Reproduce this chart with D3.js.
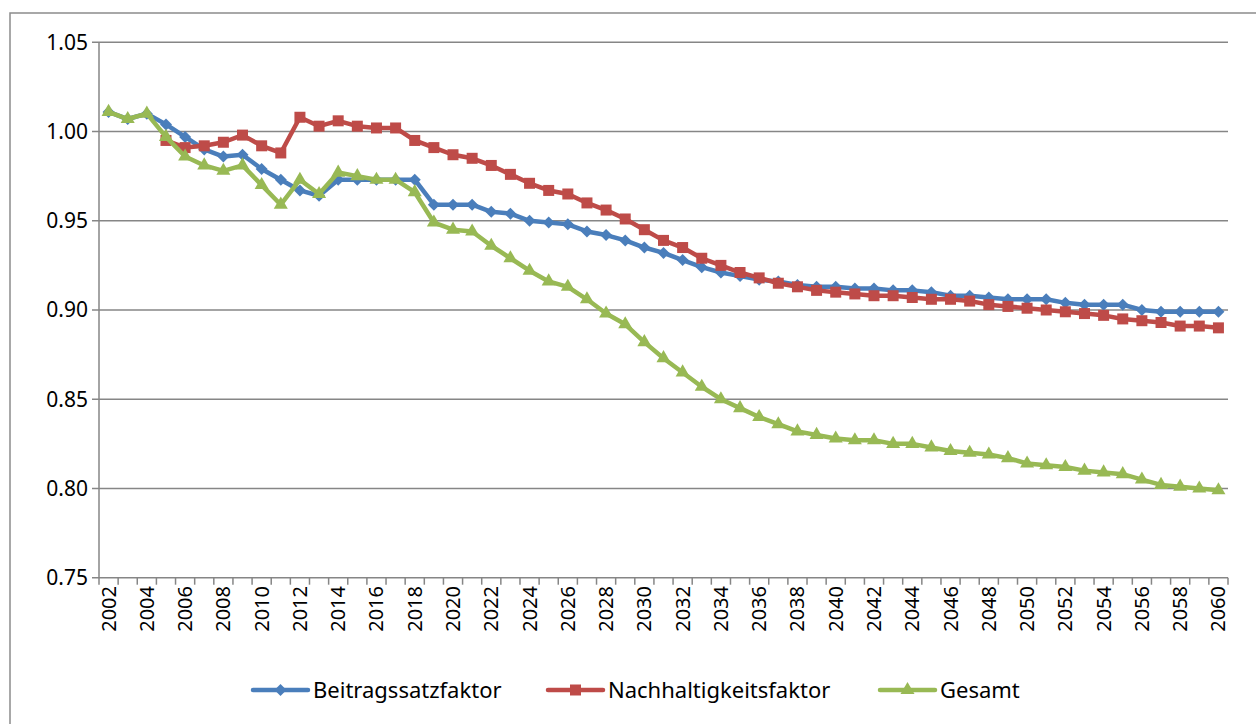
<!DOCTYPE html>
<html lang="de">
<head>
    <meta charset="UTF-8">
    <title>Faktoren</title>
    <script src="https://d3js.org/d3.v7.min.js"></script>
    <style>
        body { margin: 0; background: #fff; }
        svg text { font-family: "Noto Sans", sans-serif; fill: #000; }
        .grid line { stroke: #868686; stroke-width: 1.5px; }
    </style>
</head>
<body>
<svg id="chart" width="1256" height="724"></svg>
<script>
    // categories
    var years = d3.range(2002, 2061);
    var yTicks = [0.75, 0.80, 0.85, 0.90, 0.95, 1.00, 1.05];

    // series values
    var beitrag = [1.011, 1.007, 1.010, 1.004, 0.997, 0.990, 0.986, 0.987, 0.979, 0.973,
        0.967, 0.964, 0.973, 0.973, 0.973, 0.973, 0.973, 0.959, 0.959, 0.959,
        0.955, 0.954, 0.950, 0.949, 0.948, 0.944, 0.942, 0.939, 0.935, 0.932,
        0.928, 0.924, 0.921, 0.919, 0.917, 0.916, 0.914, 0.913, 0.913, 0.912,
        0.912, 0.911, 0.911, 0.910, 0.908, 0.908, 0.907, 0.906, 0.906, 0.906,
        0.904, 0.903, 0.903, 0.903, 0.900, 0.899, 0.899, 0.899, 0.899];
    var nachhalt = [null, null, null, 0.995, 0.991, 0.992, 0.994, 0.998, 0.992, 0.988,
        1.008, 1.003, 1.006, 1.003, 1.002, 1.002, 0.995, 0.991, 0.987, 0.985,
        0.981, 0.976, 0.971, 0.967, 0.965, 0.960, 0.956, 0.951, 0.945, 0.939,
        0.935, 0.929, 0.925, 0.921, 0.918, 0.915, 0.913, 0.911, 0.910, 0.909,
        0.908, 0.908, 0.907, 0.906, 0.906, 0.905, 0.903, 0.902, 0.901, 0.900,
        0.899, 0.898, 0.897, 0.895, 0.894, 0.893, 0.891, 0.891, 0.890];
    var gesamt = [1.011, 1.007, 1.010, 0.997, 0.986, 0.981, 0.978, 0.981, 0.970, 0.959,
        0.973, 0.965, 0.977, 0.975, 0.973, 0.973, 0.966, 0.949, 0.945, 0.944,
        0.936, 0.929, 0.922, 0.916, 0.913, 0.906, 0.898, 0.892, 0.882, 0.873,
        0.865, 0.857, 0.850, 0.845, 0.840, 0.836, 0.832, 0.830, 0.828, 0.827,
        0.827, 0.825, 0.825, 0.823, 0.821, 0.820, 0.819, 0.817, 0.814, 0.813,
        0.812, 0.810, 0.809, 0.808, 0.805, 0.802, 0.801, 0.800, 0.799];

    var seriesNames = ["Beitragssatzfaktor", "Nachhaltigkeitsfaktor", "Gesamt"];
    var seriesColors = ["#4A7EBB", "#BE4B48", "#98B954"];

    var series = [
        {name: seriesNames[0], values: beitrag, color: seriesColors[0], symbol: "diamond"},
        {name: seriesNames[1], values: nachhalt, color: seriesColors[1], symbol: "square"},
        {name: seriesNames[2], values: gesamt, color: seriesColors[2], symbol: "triangle"}
    ];

    var svg = d3.select("#chart");

    // outer frame of the chart area
    svg.append("rect")
        .attr("x", 10).attr("y", 13)
        .attr("width", 1400).attr("height", 900)
        .attr("fill", "none")
        .attr("stroke", "#8c8c8c")
        .attr("stroke-width", 1.5);

    var x = d3.scaleBand().domain(years).range([99, 1228]).padding(0);
    var y = d3.scaleLinear().domain([0.75, 1.05]).range([577.7, 42.3]);

    // horizontal gridlines
    svg.append("g").attr("class", "grid")
        .selectAll("line")
        .data(yTicks)
        .enter().append("line")
        .attr("x1", 92).attr("x2", 1228)
        .attr("y1", function (d) { return y(d); })
        .attr("y2", function (d) { return y(d); });

    // y axis line
    svg.append("line")
        .attr("x1", 99).attr("x2", 99)
        .attr("y1", y(1.05)).attr("y2", y(0.75))
        .attr("stroke", "#868686").attr("stroke-width", 1.5);

    // y labels
    svg.append("g").selectAll("text")
        .data(yTicks)
        .enter().append("text")
        .attr("x", 88)
        .attr("y", function (d) { return y(d); })
        .attr("dy", "0.35em")
        .attr("text-anchor", "end")
        .style("font-size", "21px")
        .text(function (d) { return d3.format(".2f")(d); });

    // x ticks at category boundaries
    var bounds = years.map(function (d) { return x(d); }).concat([x.range()[1]]);
    svg.append("g").selectAll("line")
        .data(bounds)
        .enter().append("line")
        .attr("x1", function (d) { return d; })
        .attr("x2", function (d) { return d; })
        .attr("y1", y(0.75)).attr("y2", y(0.75) + 7)
        .attr("stroke", "#868686").attr("stroke-width", 1.5);

    // x labels, every second year
    svg.append("g").selectAll("text")
        .data(years.filter(function (d, i) { return i % 2 === 0; }))
        .enter().append("text")
        .attr("transform", function (d) {
            return "translate(" + (x(d) + x.bandwidth() / 2) + "," + 586 + ") rotate(-90)";
        })
        .attr("dy", "0.35em")
        .attr("text-anchor", "end")
        .style("font-size", "20px")
        .text(function (d) { return d; });

    function symbolPath(kind) {
        if (kind === "diamond") {
            return "M0,-6L6,0L0,6L-6,0Z";
        } else if (kind === "square") {
            return d3.symbol().type(d3.symbolSquare).size(121)();
        }
        return d3.symbol().type(d3.symbolTriangle).size(85)();
    }

    var line = d3.line()
        .defined(function (d) { return d.v !== null; })
        .x(function (d) { return x(d.year) + x.bandwidth() / 2; })
        .y(function (d) { return y(d.v); });

    series.forEach(function (s) {
        var pts = years.map(function (yr, i) { return {year: yr, v: s.values[i]}; });
        var g = svg.append("g");
        g.append("path")
            .datum(pts)
            .attr("d", line)
            .attr("fill", "none")
            .attr("stroke", s.color)
            .attr("stroke-width", 4.5)
            .attr("stroke-linejoin", "round");
        g.selectAll("path.m")
            .data(pts.filter(function (d) { return d.v !== null; }))
            .enter().append("path")
            .attr("class", "m")
            .attr("d", symbolPath(s.symbol))
            .attr("fill", s.color)
            .attr("transform", function (d) {
                return "translate(" + (x(d.year) + x.bandwidth() / 2) + "," + y(d.v) + ")";
            });
    });

    // legend
    var legendX = [253, 548, 880];
    var legend = svg.append("g").selectAll("g")
        .data(series)
        .enter().append("g")
        .attr("transform", function (d, i) { return "translate(" + legendX[i] + ",690)"; });
    legend.append("line")
        .attr("x1", 0).attr("x2", 55)
        .attr("stroke", function (d) { return d.color; })
        .attr("stroke-width", 4.5)
        .attr("stroke-linecap", "round");
    legend.append("path")
        .attr("d", function (d) { return symbolPath(d.symbol); })
        .attr("fill", function (d) { return d.color; })
        .attr("transform", "translate(27.5,0)");
    legend.append("text")
        .attr("x", 60)
        .attr("dy", "0.35em")
        .style("font-size", "22px")
        .text(function (d) { return d.name; });
</script>
</body>
</html>
